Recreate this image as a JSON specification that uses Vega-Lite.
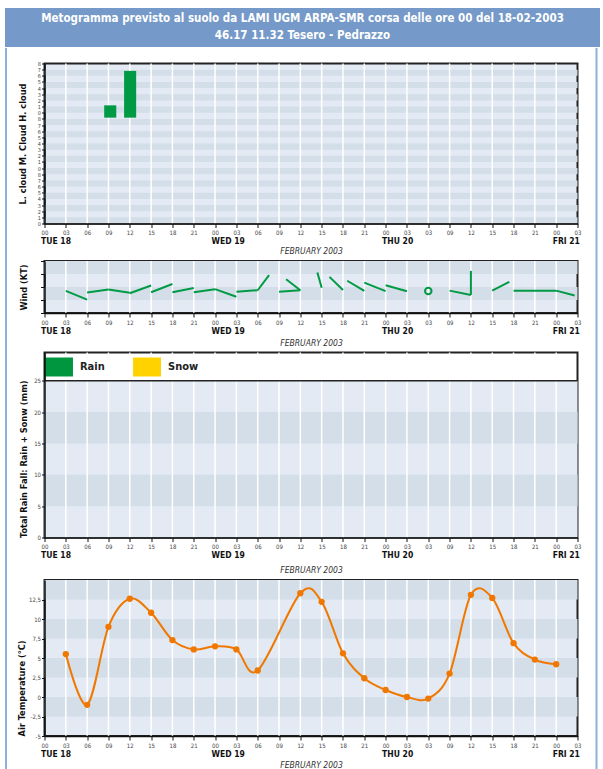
{
 "$schema": "https://vega.github.io/schema/vega-lite/v6.json",
 "background": "white",
 "padding": {"left": 4, "top": 8, "right": 0, "bottom": 0},
 "spacing": 0,
 "config": {
  "font": "Liberation Sans Narrow, DejaVu Sans Condensed, Liberation Sans, sans-serif",
  "view": {"stroke": "#222", "strokeWidth": 2},
  "axis": {"labelFont": "Liberation Sans Narrow, DejaVu Sans Condensed, Liberation Sans, sans-serif", "titleFont": "Liberation Sans Narrow, DejaVu Sans Condensed, Liberation Sans, sans-serif", "domainColor": "#111", "tickColor": "#111", "labelColor": "#444", "titleColor": "#111", "labelOverlap": false},
  "legend": {"labelFont": "Liberation Sans Narrow, DejaVu Sans Condensed, Liberation Sans, sans-serif"},
  "text": {"font": "Liberation Sans Narrow, DejaVu Sans Condensed, Liberation Sans, sans-serif"}
 },
 "datasets": {
  "header": [
   {"line": 1, "text": "Metogramma  previsto al suolo da LAMI UGM ARPA-SMR corsa delle ore 00 del 18-02-2003"},
   {"line": 2, "text": "46.17 11.32 Tesero - Pedrazzo"}
  ],
  "hours": [
   {"t": 3}, {"t": 6}, {"t": 9}, {"t": 12}, {"t": 15}, {"t": 18}, {"t": 21}, {"t": 24},
   {"t": 27}, {"t": 30}, {"t": 33}, {"t": 36}, {"t": 39}, {"t": 42}, {"t": 45}, {"t": 48},
   {"t": 51}, {"t": 54}, {"t": 57}, {"t": 60}, {"t": 63}, {"t": 66}, {"t": 69}, {"t": 72}
  ],
  "cloudStripes": [
   {"y0": 0, "y1": 1}, {"y0": 2, "y1": 3}, {"y0": 4, "y1": 5}, {"y0": 6, "y1": 7}, {"y0": 8, "y1": 9},
   {"y0": 10, "y1": 11}, {"y0": 12, "y1": 13}, {"y0": 14, "y1": 15}, {"y0": 16, "y1": 17}, {"y0": 18, "y1": 19},
   {"y0": 20, "y1": 21}, {"y0": 22, "y1": 23}, {"y0": 24, "y1": 25}
  ],
  "cloud": [
   {"t0": 8.4, "t1": 10.1, "y0": 17.2, "y1": 19.2},
   {"t0": 11.2, "t1": 12.9, "y0": 17.2, "y1": 24.8}
  ],
  "windStripes": [{"y0": 1, "y1": 2}, {"y0": 3, "y1": 4}],
  "wind": [
   {"t0": 3, "v0": 1.70, "t1": 6, "v1": 1.03},
   {"t0": 6, "v0": 1.57, "t1": 9, "v1": 1.80},
   {"t0": 9, "v0": 1.80, "t1": 12, "v1": 1.55},
   {"t0": 12, "v0": 1.52, "t1": 15, "v1": 2.12},
   {"t0": 15, "v0": 1.60, "t1": 18, "v1": 2.23},
   {"t0": 18, "v0": 1.60, "t1": 21, "v1": 1.93},
   {"t0": 21, "v0": 1.60, "t1": 24, "v1": 1.83},
   {"t0": 24, "v0": 1.84, "t1": 27, "v1": 1.25},
   {"t0": 27, "v0": 1.64, "t1": 30, "v1": 1.75},
   {"t0": 30, "v0": 1.75, "t1": 31.6, "v1": 2.91},
   {"t0": 33, "v0": 1.64, "t1": 36, "v1": 1.75},
   {"t0": 36, "v0": 1.75, "t1": 34.0, "v1": 2.60},
   {"t0": 39, "v0": 1.95, "t1": 38.4, "v1": 3.12},
   {"t0": 42, "v0": 1.77, "t1": 40.1, "v1": 2.78},
   {"t0": 45, "v0": 1.70, "t1": 42.6, "v1": 2.48},
   {"t0": 45, "v0": 2.34, "t1": 48, "v1": 1.68},
   {"t0": 48, "v0": 2.13, "t1": 51, "v1": 1.67},
   {"t0": 57, "v0": 1.72, "t1": 60, "v1": 1.39},
   {"t0": 60, "v0": 1.39, "t1": 60, "v1": 3.24},
   {"t0": 63, "v0": 1.72, "t1": 65.4, "v1": 2.40},
   {"t0": 66, "v0": 1.72, "t1": 72, "v1": 1.72},
   {"t0": 72, "v0": 1.72, "t1": 74.6, "v1": 1.34}
  ],
  "calm": [{"t": 54, "v": 1.70}],
  "rainLight": [{"y0": 0, "y1": 25}],
  "rainDark": [{"y0": 5, "y1": 10}, {"y0": 15, "y1": 20}],
  "rain": [
   {"t": 3, "Rain": 0, "Snow": 0}, {"t": 6, "Rain": 0, "Snow": 0}, {"t": 9, "Rain": 0, "Snow": 0}, {"t": 12, "Rain": 0, "Snow": 0},
   {"t": 15, "Rain": 0, "Snow": 0}, {"t": 18, "Rain": 0, "Snow": 0}, {"t": 21, "Rain": 0, "Snow": 0}, {"t": 24, "Rain": 0, "Snow": 0},
   {"t": 27, "Rain": 0, "Snow": 0}, {"t": 30, "Rain": 0, "Snow": 0}, {"t": 33, "Rain": 0, "Snow": 0}, {"t": 36, "Rain": 0, "Snow": 0},
   {"t": 39, "Rain": 0, "Snow": 0}, {"t": 42, "Rain": 0, "Snow": 0}, {"t": 45, "Rain": 0, "Snow": 0}, {"t": 48, "Rain": 0, "Snow": 0},
   {"t": 51, "Rain": 0, "Snow": 0}, {"t": 54, "Rain": 0, "Snow": 0}, {"t": 57, "Rain": 0, "Snow": 0}, {"t": 60, "Rain": 0, "Snow": 0},
   {"t": 63, "Rain": 0, "Snow": 0}, {"t": 66, "Rain": 0, "Snow": 0}, {"t": 69, "Rain": 0, "Snow": 0}, {"t": 72, "Rain": 0, "Snow": 0}
  ],
  "tempStripes": [{"y0": -2.5, "y1": 0}, {"y0": 2.5, "y1": 5}, {"y0": 7.5, "y1": 10}, {"y0": 12.5, "y1": 15}],
  "temp": [
   {"t": 3, "T": 5.5}, {"t": 6, "T": -1.0}, {"t": 9, "T": 9.0}, {"t": 12, "T": 12.6}, {"t": 15, "T": 10.8},
   {"t": 18, "T": 7.3}, {"t": 21, "T": 6.1}, {"t": 24, "T": 6.5}, {"t": 27, "T": 6.1}, {"t": 30, "T": 3.4},
   {"t": 36, "T": 13.3}, {"t": 39, "T": 12.2}, {"t": 42, "T": 5.6}, {"t": 45, "T": 2.4}, {"t": 48, "T": 0.9},
   {"t": 51, "T": 0.0}, {"t": 54, "T": -0.2}, {"t": 57, "T": 3.0}, {"t": 60, "T": 13.1}, {"t": 63, "T": 12.7},
   {"t": 66, "T": 6.9}, {"t": 69, "T": 4.8}, {"t": 72, "T": 4.2}
  ],
  "one": [{}]
 },
 "vconcat": [
  {
   "width": 595, "height": 39,
   "view": {"fill": "#7599c8", "stroke": null},
   "data": {"name": "header"},
   "mark": {"type": "text", "color": "white", "fontWeight": "bold", "fontSize": 11.5},
   "encoding": {
    "y": {"field": "line", "type": "ordinal", "axis": null, "scale": {"padding": 0.6}},
    "text": {"field": "text"}
   }
  },
  {
   "spacing": 8.5,
   "hconcat": [
    {"width": 2, "height": 730, "view": {"fill": "#8fb0da", "stroke": null}, "data": {"name": "one"}, "mark": {"type": "rule", "opacity": 0}, "encoding": {}},
    {
     "spacing": 12,
     "hconcat": [
      {
       "spacing": 2.5,
       "resolve": {"scale": {"color": "independent"}, "legend": {"color": "independent"}},
       "vconcat": [
        {"width": 2, "height": 9.5, "view": {"stroke": null}, "data": {"name": "one"}, "mark": {"type": "rule", "opacity": 0}, "encoding": {}},
        {
         "width": 533, "height": 160,
         "view": {"fill": "#e3eaf3"},
         "resolve": {"axis": {"x": "independent"}},
         "layer": [
          {
           "data": {"name": "cloudStripes"},
           "mark": {"type": "rect", "color": "#d3dee9"},
           "encoding": {
            "x": {"datum": 0, "type": "quantitative", "scale": {"domain": [0, 75], "nice": false, "zero": false},
                  "axis": {"orient": "bottom", "values": [0, 24, 48, 72], "labelExpr": "datum.value == 0 ? 'TUE 18' : datum.value == 24 ? 'WED 19' : datum.value == 48 ? 'THU 20' : 'FRI 21'", "labelAlign": "left", "labelOffset": -4, "labelFontSize": 8.5, "labelFontWeight": "bold", "labelColor": "#111", "labelPadding": 13, "ticks": false, "domain": false, "grid": false, "title": "FEBRUARY 2003", "titleFontStyle": "italic", "titleFontWeight": "normal", "titleFontSize": 8.5, "titleColor": "#333", "titlePadding": 1.5, "labelFlush": false, "labelOverlap": false}},
            "x2": {"datum": 75},
            "y": {"field": "y0", "type": "quantitative", "scale": {"domain": [0, 26], "nice": false, "zero": false},
                  "axis": {"values": [0,1,2,3,4,5,6,7,8,9,10,11,12,13,14,15,16,17,18,19,20,21,22,23,24,25,26], "labelExpr": "datum.value % 9", "labelFontSize": 5.5, "labelPadding": 1, "tickSize": 3, "domainWidth": 1.5, "grid": false, "labelOverlap": false, "labelFlush": false, "zindex": 1, "title": "L. cloud M. Cloud H. cloud", "titleFontSize": 9.2, "titleFontWeight": "bold", "titlePadding": 9.5}},
            "y2": {"field": "y1"}
           }
          },
          {
           "data": {"name": "hours"},
           "mark": {"type": "rule", "color": "white", "strokeWidth": 1.5},
           "encoding": {"x": {"field": "t", "type": "quantitative", "axis": null}}
          },
          {
           "data": {"name": "cloud"},
           "mark": {"type": "rect", "color": "#009a44"},
           "encoding": {
            "x": {"field": "t0", "type": "quantitative", "scale": {"domain": [0, 75], "nice": false, "zero": false},
                  "axis": {"orient": "bottom", "values": [0,3,6,9,12,15,18,21,24,27,30,33,36,39,42,45,48,51,54,57,60,63,66,69,72,75], "labelExpr": "datum.value == 54 ? '03' : ((datum.value % 24) < 10 ? '0' : '') + (datum.value % 24)", "labelFontSize": 6, "labelPadding": 2, "tickSize": 4, "domainWidth": 1.5, "grid": false, "title": null, "zindex": 1, "labelFlush": false, "labelOverlap": false}},
            "x2": {"field": "t1"},
            "y": {"field": "y0", "type": "quantitative", "scale": {"domain": [0, 26], "nice": false, "zero": false},
                  "axis": {"values": [0,1,2,3,4,5,6,7,8,9,10,11,12,13,14,15,16,17,18,19,20,21,22,23,24,25,26], "labelExpr": "datum.value % 9", "labelFontSize": 5.5, "labelPadding": 1, "tickSize": 3, "domainWidth": 1.5, "grid": false, "labelOverlap": false, "labelFlush": false, "zindex": 1, "title": "L. cloud M. Cloud H. cloud", "titleFontSize": 9.2, "titleFontWeight": "bold", "titlePadding": 9.5}},
            "y2": {"field": "y1"}
           }
          }
         ]
        },
        {
         "width": 533, "height": 52,
         "view": {"fill": "#e3eaf3"},
         "resolve": {"axis": {"x": "independent"}},
         "layer": [
          {
           "data": {"name": "windStripes"},
           "mark": {"type": "rect", "color": "#d3dee9"},
           "encoding": {
            "x": {"datum": 0, "type": "quantitative", "scale": {"domain": [0, 75], "nice": false, "zero": false},
                  "axis": {"orient": "bottom", "values": [0, 24, 48, 72], "labelExpr": "datum.value == 0 ? 'TUE 18' : datum.value == 24 ? 'WED 19' : datum.value == 48 ? 'THU 20' : 'FRI 21'", "labelAlign": "left", "labelOffset": -4, "labelFontSize": 8.5, "labelFontWeight": "bold", "labelColor": "#111", "labelPadding": 13, "ticks": false, "domain": false, "grid": false, "title": "FEBRUARY 2003", "titleFontStyle": "italic", "titleFontWeight": "normal", "titleFontSize": 8.5, "titleColor": "#333", "titlePadding": 4, "labelFlush": false, "labelOverlap": false}},
            "x2": {"datum": 75},
            "y": {"field": "y0", "type": "quantitative", "scale": {"domain": [0, 4], "nice": false, "zero": false},
                  "axis": {"values": [0, 1, 2, 3, 4], "labels": false, "tickSize": 4, "domainWidth": 1.5, "grid": false, "zindex": 1, "title": "Wind (KT)", "titleFontSize": 9.2, "titleFontWeight": "bold", "titlePadding": 11.5}},
            "y2": {"field": "y1"}
           }
          },
          {
           "data": {"name": "hours"},
           "mark": {"type": "rule", "color": "white", "strokeWidth": 1.5},
           "encoding": {"x": {"field": "t", "type": "quantitative", "axis": null}}
          },
          {
           "data": {"name": "wind"},
           "mark": {"type": "rule", "color": "#009a44", "strokeWidth": 2},
           "encoding": {
            "x": {"field": "t0", "type": "quantitative", "scale": {"domain": [0, 75], "nice": false, "zero": false},
                  "axis": {"orient": "bottom", "values": [0,3,6,9,12,15,18,21,24,27,30,33,36,39,42,45,48,51,54,57,60,63,66,69,72,75], "labelExpr": "datum.value == 54 ? '03' : ((datum.value % 24) < 10 ? '0' : '') + (datum.value % 24)", "labelFontSize": 6, "labelPadding": 2, "tickSize": 4, "domainWidth": 1.5, "grid": false, "title": null, "zindex": 1, "labelFlush": false, "labelOverlap": false}},
            "x2": {"field": "t1"},
            "y": {"field": "v0", "type": "quantitative", "scale": {"domain": [0, 4], "nice": false, "zero": false},
                  "axis": {"values": [0, 1, 2, 3, 4], "labels": false, "tickSize": 4, "domainWidth": 1.5, "grid": false, "zindex": 1, "title": "Wind (KT)", "titleFontSize": 9.2, "titleFontWeight": "bold", "titlePadding": 11.5}},
            "y2": {"field": "v1"}
           }
          },
          {
           "data": {"name": "calm"},
           "mark": {"type": "point", "shape": "circle", "filled": false, "color": "#009a44", "strokeWidth": 2, "size": 42, "opacity": 1},
           "encoding": {
            "x": {"field": "t", "type": "quantitative", "axis": null},
            "y": {"field": "v", "type": "quantitative", "scale": {"domain": [0, 4], "nice": false, "zero": false},
                  "axis": {"values": [0, 1, 2, 3, 4], "labels": false, "tickSize": 4, "domainWidth": 1.5, "grid": false, "zindex": 1, "title": "Wind (KT)", "titleFontSize": 9.2, "titleFontWeight": "bold", "titlePadding": 11.5}}
           }
          }
         ]
        },
        {
         "width": 533, "height": 185,
         "view": {"fill": "white"},
         "resolve": {"axis": {"x": "independent"}},
         "layer": [
          {
           "data": {"name": "rainLight"},
           "mark": {"type": "rect", "color": "#e3eaf3"},
           "encoding": {
            "x": {"datum": 0, "type": "quantitative", "scale": {"domain": [0, 75], "nice": false, "zero": false, "padding": 0},
                  "axis": {"orient": "bottom", "values": [0, 24, 48, 72], "labelExpr": "datum.value == 0 ? 'TUE 18' : datum.value == 24 ? 'WED 19' : datum.value == 48 ? 'THU 20' : 'FRI 21'", "labelAlign": "left", "labelOffset": -4, "labelFontSize": 8.5, "labelFontWeight": "bold", "labelColor": "#111", "labelPadding": 13, "ticks": false, "domain": false, "grid": false, "title": "FEBRUARY 2003", "titleFontStyle": "italic", "titleFontWeight": "normal", "titleFontSize": 8.5, "titleColor": "#333", "titlePadding": 6.5, "labelFlush": false, "labelOverlap": false}},
            "x2": {"datum": 75},
            "y": {"field": "y0", "type": "quantitative", "scale": {"domain": [0, 29.5], "nice": false, "zero": false},
                  "axis": {"values": [0, 5, 10, 15, 20, 25], "labelOverlap": false, "labelFontSize": 6, "labelPadding": 1, "tickSize": 3, "domainWidth": 1.5, "grid": false, "zindex": 1, "title": "Total Rain Fall: Rain + Sonw (mm)", "titleFontSize": 9.2, "titleFontWeight": "bold", "titlePadding": 5.5, "titleAnchor": "start"}},
            "y2": {"field": "y1"}
           }
          },
          {
           "data": {"name": "rainDark"},
           "mark": {"type": "rect", "color": "#d3dee9"},
           "encoding": {
            "x": {"datum": 0, "type": "quantitative", "axis": null},
            "x2": {"datum": 75},
            "y": {"field": "y0", "type": "quantitative", "scale": {"domain": [0, 29.5], "nice": false, "zero": false},
                  "axis": {"values": [0, 5, 10, 15, 20, 25], "labelOverlap": false, "labelFontSize": 6, "labelPadding": 1, "tickSize": 3, "domainWidth": 1.5, "grid": false, "zindex": 1, "title": "Total Rain Fall: Rain + Sonw (mm)", "titleFontSize": 9.2, "titleFontWeight": "bold", "titlePadding": 5.5, "titleAnchor": "start"}},
            "y2": {"field": "y1"}
           }
          },
          {
           "data": {"name": "hours"},
           "mark": {"type": "rule", "color": "white", "strokeWidth": 1.5},
           "encoding": {"x": {"field": "t", "type": "quantitative", "axis": null}}
          },
          {
           "data": {"name": "one"},
           "mark": {"type": "rule", "color": "#222", "strokeWidth": 1.5},
           "encoding": {
            "y": {"datum": 25, "type": "quantitative", "scale": {"domain": [0, 29.5], "nice": false, "zero": false},
                  "axis": {"values": [0, 5, 10, 15, 20, 25], "labelOverlap": false, "labelFontSize": 6, "labelPadding": 1, "tickSize": 3, "domainWidth": 1.5, "grid": false, "zindex": 1, "title": "Total Rain Fall: Rain + Sonw (mm)", "titleFontSize": 9.2, "titleFontWeight": "bold", "titlePadding": 5.5, "titleAnchor": "start"}}
           }
          },
          {
           "data": {"name": "rain"},
           "transform": [{"fold": ["Rain", "Snow"], "as": ["type", "mm"]}],
           "mark": {"type": "bar"},
           "encoding": {
            "x": {"field": "t", "type": "quantitative", "scale": {"domain": [0, 75], "nice": false, "zero": false, "padding": 0},
                  "axis": {"orient": "bottom", "values": [0,3,6,9,12,15,18,21,24,27,30,33,36,39,42,45,48,51,54,57,60,63,66,69,72,75], "labelExpr": "datum.value == 54 ? '03' : ((datum.value % 24) < 10 ? '0' : '') + (datum.value % 24)", "labelFontSize": 6, "labelPadding": 2, "tickSize": 4, "domainWidth": 1.5, "grid": false, "title": null, "zindex": 1, "labelFlush": false, "labelOverlap": false}},
            "y": {"field": "mm", "type": "quantitative", "scale": {"domain": [0, 29.5], "nice": false, "zero": false},
                  "axis": {"values": [0, 5, 10, 15, 20, 25], "labelOverlap": false, "labelFontSize": 6, "labelPadding": 1, "tickSize": 3, "domainWidth": 1.5, "grid": false, "zindex": 1, "title": "Total Rain Fall: Rain + Sonw (mm)", "titleFontSize": 9.2, "titleFontWeight": "bold", "titlePadding": 5.5, "titleAnchor": "start"}},
            "color": {"field": "type", "type": "nominal", "scale": {"domain": ["Rain", "Snow"], "range": ["#00963f", "#ffd200"]},
                      "legend": {"orient": "top-left", "direction": "horizontal", "title": null, "symbolType": "M-1.47,-1L1.47,-1L1.47,1L-1.47,1Z", "symbolSize": 361, "symbolStrokeWidth": 0, "symbolOpacity": 1, "labelFontSize": 11, "labelFontWeight": "bold", "labelColor": "#222", "labelOffset": 11.5, "columnPadding": 27, "offset": 5, "padding": 0}}
           }
          }
         ]
        },
        {
         "width": 533, "height": 156,
         "view": {"fill": "#e3eaf3"},
         "resolve": {"axis": {"x": "independent"}},
         "layer": [
          {
           "data": {"name": "tempStripes"},
           "mark": {"type": "rect", "color": "#d3dee9"},
           "encoding": {
            "x": {"datum": 0, "type": "quantitative", "scale": {"domain": [0, 75], "nice": false, "zero": false},
                  "axis": {"orient": "bottom", "values": [0, 24, 48, 72], "labelExpr": "datum.value == 0 ? 'TUE 18' : datum.value == 24 ? 'WED 19' : datum.value == 48 ? 'THU 20' : 'FRI 21'", "labelAlign": "left", "labelOffset": -4, "labelFontSize": 8.5, "labelFontWeight": "bold", "labelColor": "#111", "labelPadding": 13, "ticks": false, "domain": false, "grid": false, "title": "FEBRUARY 2003", "titleFontStyle": "italic", "titleFontWeight": "normal", "titleFontSize": 8.5, "titleColor": "#333", "titlePadding": 2.5, "labelFlush": false, "labelOverlap": false}},
            "x2": {"datum": 75},
            "y": {"field": "y0", "type": "quantitative", "scale": {"domain": [-5, 15], "nice": false, "zero": false},
                  "axis": {"values": [-5, -2.5, 0, 2.5, 5, 7.5, 10, 12.5], "labelOverlap": false, "labelExpr": "replace(toString(datum.value), '.', ',')", "labelFontSize": 6, "labelPadding": 1, "tickSize": 3, "domainWidth": 1.5, "grid": false, "zindex": 1, "title": "Air Temperature (°C)", "titleFontSize": 9.2, "titleFontWeight": "bold", "titlePadding": 2, "titleAnchor": "start"}},
            "y2": {"field": "y1"}
           }
          },
          {
           "data": {"name": "hours"},
           "mark": {"type": "rule", "color": "white", "strokeWidth": 1.5},
           "encoding": {"x": {"field": "t", "type": "quantitative", "axis": null}}
          },
          {
           "data": {"name": "temp"},
           "mark": {"type": "line", "color": "#f07800", "strokeWidth": 2, "interpolate": "cardinal"},
           "encoding": {
            "x": {"field": "t", "type": "quantitative", "scale": {"domain": [0, 75], "nice": false, "zero": false},
                  "axis": {"orient": "bottom", "values": [0,3,6,9,12,15,18,21,24,27,30,33,36,39,42,45,48,51,54,57,60,63,66,69,72,75], "labelExpr": "datum.value == 54 ? '03' : ((datum.value % 24) < 10 ? '0' : '') + (datum.value % 24)", "labelFontSize": 6, "labelPadding": 2, "tickSize": 4, "domainWidth": 1.5, "grid": false, "title": null, "zindex": 1, "labelFlush": false, "labelOverlap": false}},
            "y": {"field": "T", "type": "quantitative", "scale": {"domain": [-5, 15], "nice": false, "zero": false},
                  "axis": {"values": [-5, -2.5, 0, 2.5, 5, 7.5, 10, 12.5], "labelOverlap": false, "labelExpr": "replace(toString(datum.value), '.', ',')", "labelFontSize": 6, "labelPadding": 1, "tickSize": 3, "domainWidth": 1.5, "grid": false, "zindex": 1, "title": "Air Temperature (°C)", "titleFontSize": 9.2, "titleFontWeight": "bold", "titlePadding": 2, "titleAnchor": "start"}}
           }
          },
          {
           "data": {"name": "temp"},
           "mark": {"type": "point", "filled": true, "shape": "circle", "color": "#f07800", "size": 40, "opacity": 1},
           "encoding": {
            "x": {"field": "t", "type": "quantitative", "axis": null},
            "y": {"field": "T", "type": "quantitative", "scale": {"domain": [-5, 15], "nice": false, "zero": false},
                  "axis": {"values": [-5, -2.5, 0, 2.5, 5, 7.5, 10, 12.5], "labelOverlap": false, "labelExpr": "replace(toString(datum.value), '.', ',')", "labelFontSize": 6, "labelPadding": 1, "tickSize": 3, "domainWidth": 1.5, "grid": false, "zindex": 1, "title": "Air Temperature (°C)", "titleFontSize": 9.2, "titleFontWeight": "bold", "titlePadding": 2, "titleAnchor": "start"}}
           }
          }
         ]
        }
       ]
      },
      {"width": 2, "height": 730, "view": {"fill": "#8fb0da", "stroke": null}, "data": {"name": "one"}, "mark": {"type": "rule", "opacity": 0}, "encoding": {}}
     ]
    }
   ]
  }
 ]
}
